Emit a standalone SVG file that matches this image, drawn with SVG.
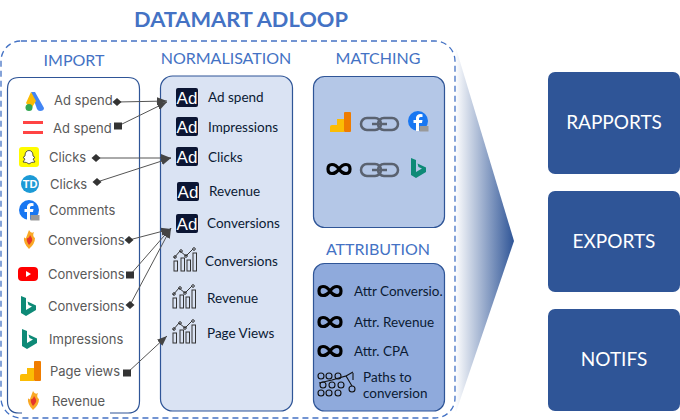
<svg xmlns="http://www.w3.org/2000/svg" xmlns:xlink="http://www.w3.org/1999/xlink" width="680" height="420" viewBox="0 0 680 420">
<style>
.h{font:16px Lato,"Liberation Sans",sans-serif;fill:#4472c4;text-anchor:middle}
.i{font:13px Inter,"Liberation Sans",sans-serif;fill:#595959}
.n{font:13.5px Lato,"Liberation Sans",sans-serif;fill:#0b1a33}
.o{font:19px Lato,"Liberation Sans",sans-serif;fill:#fff;text-anchor:middle}
.box{stroke:#2f5597;stroke-width:1.2}
.c{stroke:#555;stroke-width:1;fill:none}
.c1{marker-start:url(#dia);marker-end:url(#arr)}
.c2{marker-start:url(#sq);marker-end:url(#arr)}
.ic{fill:none;stroke:#333;stroke-width:1}
.inf{fill:none;stroke:#000;stroke-width:3.200}
.ad{fill:#0b1533}
.adt{font:17px "Liberation Sans",sans-serif;fill:#fff;text-anchor:middle}
</style>
<defs>
<linearGradient id="g" x1="0" x2="1" y1="0" y2="0"><stop offset="0" stop-color="#fff"/><stop offset="1" stop-color="#2f5597"/></linearGradient>
<marker id="dia" markerUnits="userSpaceOnUse" markerWidth="10" markerHeight="10" refX="5" refY="5"><path d="M0.500 5 5 1 9.500 5 5 9z" fill="#333"/></marker>
<marker id="sq" markerUnits="userSpaceOnUse" markerWidth="10" markerHeight="10" refX="5" refY="5"><path d="M1 1.500h8v7h-8z" fill="#333"/></marker>
<marker id="arr" markerUnits="userSpaceOnUse" markerWidth="12" markerHeight="10" refX="10" refY="5" orient="auto"><path d="M0 1 10 5 0 9z" fill="#444"/></marker>
<g id="ads"><path d="M7 1 11 1 20 17Q20 20 16 20 14 20 13 18z" fill="#4285f4"/><path d="M7 1 12 10 7 18 2 12z" fill="#fbbc04"/><circle cx="5" cy="16.500" r="3.500" fill="#34a853"/></g>
<g id="eq"><rect x="0" y="0" width="20" height="3" fill="#f44"/><rect x="0" y="10" width="20" height="3" fill="#f44"/></g>
<g id="snap"><rect width="20" height="20" rx="3" fill="#fffc00"/><path d="M10 3.500C13 3.500 14 6 14 9L16 10.500 14 12 16 15 12.500 15.500 10 17 7.500 15.500 4 15 6 12 4 10.500 6 9C6 6 7 3.500 10 3.500z" fill="#fff" stroke="#333" stroke-width=".8"/></g>
<g id="td"><circle cx="9" cy="9" r="9" fill="#1c9ad6"/><text x="9" y="13" style="font:bold 11px 'Liberation Sans',sans-serif;fill:#fff;text-anchor:middle">TD</text></g>
<g id="fb"><circle cx="10" cy="10" r="10" fill="#1877f2"/><path d="M11 20V12H14L14.500 9H11V7.500Q11 6 12.500 6H14.500V3.200Q9 2 8 6.500V9H5.500V12H8V20z" fill="#fff"/><rect x="11.500" y="15" width="9" height="5.500" fill="#999"/></g>
<g id="fl"><path d="M6 0Q8 4 11 2 9 6 12 8 12 14 6 19 0 13 1 7 2 9 3 8z" fill="#f9a825"/><path d="M7 5Q10 9 9 11 8 13 6 15 3 11 4 8 6 9 7 5z" fill="#e5352b"/></g>
<g id="yt"><rect width="20" height="14" rx="4" fill="#f00"/><path d="M8 4 13 7 8 10z" fill="#fff"/></g>
<g id="bing"><path d="M0 0 5 2V14L11 10.500 7.500 9 6.500 5.500 15 9.500V14L5 20 0 17z" fill="#0e8a77"/></g>
<g id="ga"><path d="M0 20V15Q0 13 2 13H7V20z" fill="#fbbc04"/><rect x="7" y="7" width="7" height="13" fill="#fbbc04"/><rect x="14" y="0" width="7" height="20" rx="1" fill="#ef7c00"/></g>
<g id="inf"><path class="inf" d="M13 7C9 1 2 1 2 7 2 13 9 13 13 7 17 1 24 1 24 7 24 13 17 13 13 7z"/></g>
<g id="chain" fill="none" stroke="#5a6270" stroke-width="2.500"><rect x="1" y="1" width="20" height="12" rx="6"/><rect x="18" y="1" width="20" height="12" rx="6"/><path d="M12 7H27" stroke-width="2.500"/></g>
<g id="lc" class="ic"><rect x="0" y="12" width="3.500" height="10"/><rect x="7" y="9" width="3.500" height="13"/><rect x="13" y="11" width="3.500" height="11"/><rect x="19" y="4" width="3.500" height="18"/><path d="M0 9 6 2 12 7 19 0"/><circle cx="1" cy="8" r="1.300"/><circle cx="7" cy="2" r="1.300"/><circle cx="12" cy="7" r="1.300"/><circle cx="20" cy="0" r="1.300"/></g>
<g id="ad"><rect class="ad" width="22" height="19" rx="2"/><text class="adt" x="11" y="15.500">Ad</text></g>
</defs>

<text x="241" y="27" style="font:bold 21.800px Lato,'Liberation Sans',sans-serif;fill:#4472c4;text-anchor:middle">DATAMART ADLOOP</text>
<polygon id="funnel" points="455,45 514,241 455,415" fill="url(#g)"/>
<rect id="datamart" x="1" y="41" width="454" height="377" rx="20" fill="none" stroke="#4472c4" stroke-width="1.300" stroke-dasharray="6 4"/>

<g id="import">
<text class="h" x="74" y="66">IMPORT</text>
<path class="box" fill="#fff" d="M22 413H19Q7.500 413 7.500 401V89Q7.500 77.500 19 77.500H128Q139.500 77.500 139.500 89V401Q139.500 413 128 413H110"/>
<use href="#ads" x="24" y="91"/><text class="i" x="54" y="105">Ad spend</text>
<use href="#eq" x="23" y="121"/><text class="i" x="53" y="133">Ad spend</text>
<use href="#snap" x="19" y="147"/><text class="i" x="49" y="162">Clicks</text>
<use href="#td" x="21" y="175"/><text class="i" x="50" y="189">Clicks</text>
<use href="#fb" x="19" y="200"/><text class="i" x="49" y="215">Comments</text>
<use href="#fl" x="23" y="230"/><text class="i" x="48" y="245">Conversions</text>
<use href="#yt" x="18" y="267"/><text class="i" x="48" y="279">Conversions</text>
<use href="#bing" x="21" y="296"/><text class="i" x="48" y="311">Conversions</text>
<use href="#bing" x="22" y="329"/><text class="i" x="49" y="344">Impressions</text>
<use href="#ga" x="20" y="361"/><text class="i" x="50" y="376">Page views</text>
<use href="#fl" x="27" y="391"/><text class="i" x="52" y="406">Revenue</text>
</g>

<g id="normalisation">
<text class="h" x="226" y="64">NORMALISATION</text>
<rect class="box" x="160.500" y="76" width="132" height="335" rx="12" fill="#dae3f3"/>
<use href="#ad" x="176" y="88"/><text class="n" x="208" y="102">Ad spend</text>
<use href="#ad" x="176" y="117"/><text class="n" x="208" y="132">Impressions</text>
<use href="#ad" x="176" y="147"/><text class="n" x="208" y="162">Clicks</text>
<use href="#ad" x="177" y="182"/><text class="n" x="209" y="196">Revenue</text>
<use href="#ad" x="176" y="214"/><text class="n" x="207" y="228">Conversions</text>
<use href="#lc" x="174" y="249"/><text class="n" x="205" y="266">Conversions</text>
<use href="#lc" x="173" y="286"/><text class="n" x="207" y="303">Revenue</text>
<use href="#lc" x="173" y="321"/><text class="n" x="207" y="338">Page Views</text>
</g>

<g id="matching">
<text class="h" x="378" y="64">MATCHING</text>
<rect class="box" x="313.500" y="76.500" width="131" height="151" rx="11" fill="#b4c7e7"/>
<use href="#ga" x="330" y="112"/><use href="#chain" x="360" y="117"/><use href="#fb" x="408" y="111"/>
<use href="#inf" x="326" y="162"/><use href="#chain" x="360" y="163"/><use href="#bing" x="411" y="158"/>
</g>

<g id="attribution">
<text class="h" x="378" y="255">ATTRIBUTION</text>
<rect class="box" x="313.500" y="263.500" width="131" height="147.500" rx="11" fill="#8faadc"/>
<use href="#inf" x="317" y="284"/><text class="n" x="354" y="296">Attr Conversio.</text>
<use href="#inf" x="317" y="315"/><text class="n" x="354" y="327">Attr. Revenue</text>
<use href="#inf" x="317" y="344"/><text class="n" x="354" y="356">Attr. CPA</text>
<g fill="none" stroke="#111" stroke-width="1.100"><circle cx="321" cy="376" r="3"/><circle cx="329" cy="376" r="3"/><circle cx="338" cy="376" r="3"/><circle cx="323" cy="385" r="3"/><circle cx="332" cy="385" r="3"/><circle cx="341" cy="385" r="3"/><circle cx="321" cy="393" r="3"/><circle cx="329" cy="393" r="3"/><circle cx="338" cy="393" r="3"/><circle cx="352" cy="389" r="3"/><path d="M319 383 332 380 346 376 352 386M353 373V380M346 376 353 372"/></g>
<text class="n" x="363" y="382">Paths to</text><text class="n" x="363" y="398">conversion</text>
</g>

<g id="connectors">
<path class="c c1" d="M117 102 167 101"/>
<path class="c c2" d="M118 126 167 102"/>
<path class="c c1" d="M96 158 171 158"/>
<path class="c c1" d="M97 182 171 158"/>
<path class="c c1" d="M129 240 171 229"/>
<path class="c c2" d="M130 275 171 228"/>
<path class="c c1" d="M130 305 171 228"/>
<path class="c c2" d="M127 373 167 336"/>
</g>

<g id="rapports"><rect x="548" y="72" width="132" height="102" rx="7" fill="#2f5597"/><text class="o" x="614" y="129">RAPPORTS</text></g>
<g id="exports"><rect x="548" y="191" width="132" height="101" rx="7" fill="#2f5597"/><text class="o" x="614" y="248">EXPORTS</text></g>
<g id="notifs"><rect x="548" y="309" width="132" height="102" rx="7" fill="#2f5597"/><text class="o" x="614" y="366">NOTIFS</text></g>
</svg>
